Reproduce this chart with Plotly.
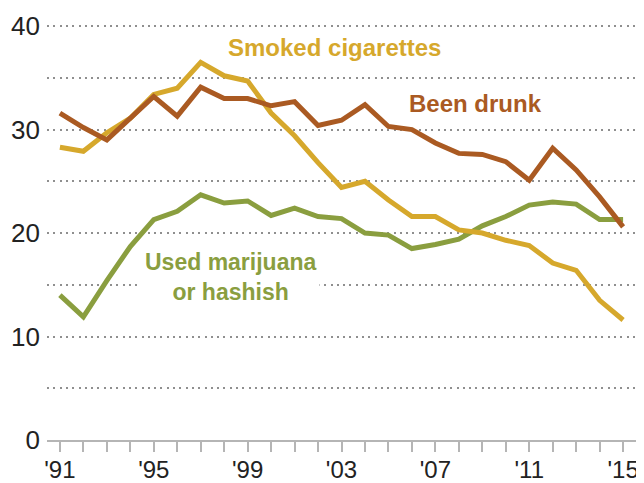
import plotly.graph_objects as go

years = list(range(1991, 2016))
cigarettes = [28.3, 27.9, 29.7, 31.1, 33.4, 34.0, 36.5, 35.2, 34.7, 31.6, 29.4, 26.8,
              24.4, 25.0, 23.2, 21.6, 21.6, 20.3, 20.0, 19.3, 18.8, 17.1, 16.4, 13.5, 11.6]
drunk = [31.6, 30.2, 29.0, 31.1, 33.2, 31.3, 34.1, 33.0, 33.0, 32.3, 32.7, 30.4,
         30.9, 32.4, 30.3, 30.0, 28.7, 27.7, 27.6, 26.9, 25.1, 28.2, 26.1, 23.5, 20.6]
marijuana = [14.0, 11.9, 15.4, 18.7, 21.3, 22.1, 23.7, 22.9, 23.1, 21.7, 22.4, 21.6,
             21.4, 20.0, 19.8, 18.5, 18.9, 19.4, 20.7, 21.6, 22.7, 23.0, 22.8, 21.3, 21.3]

tick_years = [1991, 1995, 1999, 2003, 2007, 2011, 2015]
tick_text = ["'91", "'95", "'99", "'03", "'07", "'11", "'15"]
grid_vals = [0, 5, 10, 15, 20, 25, 30, 35, 40]
y_labels = [0, 10, 20, 30, 40]

c_cig = "#D6A82C"
c_drunk = "#AA5A22"
c_mj = "#8A9E3F"

fig = go.Figure()
for vals, col in [(marijuana, c_mj), (cigarettes, c_cig), (drunk, c_drunk)]:
    fig.add_trace(go.Scatter(x=years, y=vals, mode="lines",
                             line=dict(color=col, width=5), hoverinfo="skip"))

ann_font = "Liberation Sans"
fig.add_annotation(x=2002.7, y=37.9, text="<b>Smoked cigarettes</b>", showarrow=False,
                   font=dict(color=c_cig, size=24, family=ann_font))
fig.add_annotation(x=2008.7, y=32.5, text="<b>Been drunk</b>", showarrow=False,
                   font=dict(color=c_drunk, size=24, family=ann_font))
fig.add_annotation(x=1998.25, y=15.8, text="<b>Used marijuana<br>or hashish</b>", showarrow=False,
                   font=dict(color=c_mj, size=23, family=ann_font),
                   bgcolor="white", borderpad=3)

fig.update_xaxes(range=[1990.45, 2015.55], tickvals=years,
                 ticktext=[tick_text[tick_years.index(y)] if y in tick_years else "" for y in years],
                 ticks="outside", ticklen=10, tickcolor="#b5b5b5", tickwidth=1.5,
                 showline=True, linecolor="#b5b5b5", linewidth=1.5,
                 showgrid=False, zeroline=False, automargin=False, ticklabelstandoff=-3,
                 tickfont=dict(size=24, color="#222222", family="Liberation Sans"))
fig.update_yaxes(range=[0, 40.3], tickvals=grid_vals,
                 ticktext=[str(v) if v in y_labels else "" for v in grid_vals],
                 showgrid=True, gridcolor="#8f8f8f", griddash="2px,4.3px", gridwidth=2,
                 zeroline=False, ticks="", ticklabelstandoff=6, automargin=False,
                 tickfont=dict(size=26, color="#222222", family="Liberation Sans"))
# the page body adds an 8px offset, so margins are reduced by 8 on the left/top
fig.update_layout(width=644, height=483, margin=dict(l=39, r=16, t=15, b=51),
                  plot_bgcolor="white", paper_bgcolor="white", showlegend=False)
fig.write_html("out.html")
